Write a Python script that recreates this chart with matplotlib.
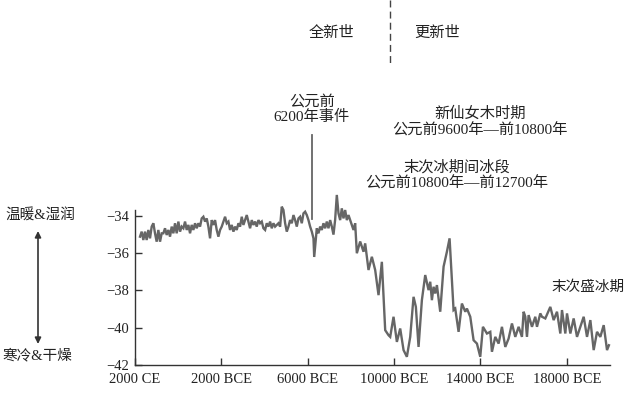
import matplotlib
matplotlib.use("Agg")
import matplotlib.pyplot as plt
from matplotlib.lines import Line2D

plt.rcParams['font.family'] = ['Liberation Serif', 'Noto Sans CJK SC']

# years before 2000 CE, and the isotope-style proxy value
holo_years = [
    232, 309, 386, 464, 541, 618, 695, 773, 850, 927, 1004, 1082, 1159, 1236,
    1313, 1391, 1468, 1545, 1622, 1700, 1777, 1854, 1931, 2009, 2086, 2163,
    2240, 2318, 2395, 2472, 2549, 2627, 2704, 2781, 2858, 2936, 3013, 3090,
    3167, 3245, 3322, 3399, 3476, 3554, 3631, 3708, 3785, 3863, 3940, 4017,
    4094, 4172, 4249, 4326, 4403, 4481, 4558, 4635, 4712, 4790, 4867, 4944,
    5021, 5099, 5176, 5253, 5330, 5408, 5485, 5562, 5639, 5717, 5794, 5871,
    5948, 6026, 6103, 6180, 6257, 6335, 6412, 6489, 6566, 6644, 6721, 6798,
    6875, 6953, 7030, 7107, 7184, 7262, 7339, 7416, 7493, 7571, 7648, 7725,
    7802, 7880, 7957, 8034, 8111, 8189, 8266, 8300, 8420, 8498, 8575, 8652,
    8729, 8807, 8884, 8961, 9038, 9116, 9193, 9270, 9347, 9425, 9502, 9579,
    9656, 9734, 9811, 9888,
]
holo_vals = [
    -35.11, -34.84, -35.29, -34.84, -35.29, -34.75, -35.20, -34.57, -34.39, -34.93,
    -35.38, -34.75, -35.38, -34.93, -34.93, -34.66, -35.02, -34.75, -35.11, -34.57,
    -34.93, -34.39, -34.93, -34.30, -34.84, -34.57, -34.66, -34.30, -34.75, -34.48,
    -34.93, -34.48, -34.75, -34.39, -34.66, -34.39, -34.57, -34.13, -34.04, -34.30,
    -34.13, -34.57, -35.20, -34.22, -34.48, -34.22, -34.75, -35.11, -34.75, -34.57,
    -34.30, -34.04, -34.39, -34.30, -34.75, -34.48, -34.84, -34.57, -34.75, -34.39,
    -34.57, -34.04, -34.48, -34.22, -33.95, -34.30, -34.66, -34.22, -34.48, -34.30,
    -34.57, -34.22, -34.39, -34.30, -34.66, -34.75, -34.39, -34.57, -34.30, -34.66,
    -34.39, -34.57, -34.48, -34.39, -34.57, -33.50, -33.68, -34.39, -34.84, -34.57,
    -34.22, -34.39, -33.95, -34.22, -34.57, -34.13, -34.04, -34.39, -33.86, -33.77,
    -33.95, -34.22, -34.57, -34.84, -35.20, -36.20, -34.66, -34.93, -34.57, -34.75,
    -34.39, -34.66, -34.30, -34.66, -34.22, -34.57, -35.00, -34.20, -32.87, -33.86,
    -34.22, -33.59, -34.13, -33.68, -34.22, -33.95,
]
glacial_years = [
    9966, 10120, 10197, 10275, 10429, 10584, 10661, 10815, 10970, 11124,
    11279, 11433, 11588, 11742, 11820, 11974, 12129, 12283, 12438, 12592,
    12747, 12901, 13009, 13133, 13287, 13442, 13596, 13674, 13751, 13828,
    13905, 13983, 14137, 14292, 14446, 14570, 14678, 14755, 14832, 14987,
    15141, 15296, 15373, 15528, 15682, 15837, 15991, 16115, 16300, 16455,
    16532, 16686, 16841, 16995, 17150, 17304, 17459, 17613, 17768, 17922,
    18000, 18077, 18154, 18231, 18386, 18540, 18618, 18772, 18849, 19004,
    19236, 19390, 19545, 19699, 19776, 19931, 20008, 20163, 20317, 20472,
    20626, 20781, 20935, 21090, 21244, 21399, 21553, 21708, 21862, 21950,
]
glacial_vals = [
    -34.22, -34.75, -34.39, -36.00, -35.37, -35.92, -35.47, -36.90, -36.19, -36.90,
    -38.25, -36.46, -40.13, -40.40, -40.49, -39.41, -40.76, -40.04, -41.20, -41.56,
    -40.49, -38.34, -38.88, -41.03, -38.52, -37.17, -37.98, -37.53, -38.52, -37.80,
    -38.16, -37.71, -39.14, -36.72, -35.92, -35.20, -37.44, -39.05, -38.97, -40.22,
    -38.70, -39.14, -38.97, -39.41, -40.67, -40.85, -41.56, -39.95, -40.31, -40.22,
    -41.29, -40.49, -40.85, -39.95, -41.03, -40.58, -39.77, -40.49, -39.95, -40.49,
    -39.14, -39.41, -40.49, -39.32, -39.95, -39.41, -39.95, -39.23, -39.41, -39.50,
    -38.88, -39.59, -39.14, -40.31, -39.05, -40.31, -39.23, -40.31, -39.50, -40.49,
    -39.95, -39.41, -40.49, -39.59, -41.20, -40.22, -40.49, -39.86, -41.20, -40.94,
]

x_ticks = [0, 4000, 8000, 12000, 16000, 20000]
x_labels = ["2000 CE", "2000 BCE", "6000 BCE", "10000 BCE", "14000 BCE", "18000 BCE"]
y_ticks = [-34, -36, -38, -40, -42]

W, H = 628, 393
AX_COLOR = "#333333"
LINE_COLOR = "#666666"

fig = plt.figure(figsize=(W / 100, H / 100), dpi=100)
ax = fig.add_axes([135 / W, 28 / H, 475 / W, 154.6 / H])

years = holo_years + glacial_years
vals = holo_vals + glacial_vals
ax.plot(years, vals, color=LINE_COLOR, lw=1.7, clip_on=False, solid_joinstyle="miter")

ax.set_xlim(0, 22000)
ax.set_ylim(-42, -33.7)
ax.set_xticks(x_ticks)
ax.set_xticklabels(x_labels)
ax.set_yticks(y_ticks)
ax.tick_params(direction="in", length=5, width=1, color=AX_COLOR,
               labelsize=10.5, labelcolor="#222222")
ax.tick_params(axis="x", pad=6)
ax.tick_params(axis="y", pad=4)
for side in ["top", "right"]:
    ax.spines[side].set_visible(False)
for side in ["left", "bottom"]:
    ax.spines[side].set_color(AX_COLOR)
    ax.spines[side].set_linewidth(1)

# 8.2 ka event marker line
ax.plot([8220, 8220], [-29.65, -34.15], color=LINE_COLOR, lw=1.3, clip_on=False)


def ftext(x, y, s, **kw):
    fig.text(x / W, 1 - y / H, s, ha="center", va="center", **kw)


ftext(332, 32, "全新世", fontsize=11, family="Noto Sans CJK SC", color="#222222")
ftext(437, 32, "更新世", fontsize=11, family="Noto Sans CJK SC", color="#222222")
fig.add_artist(Line2D([390 / W, 390 / W], [1, 1 - 66 / H], transform=fig.transFigure,
                      color="#444444", lw=1, ls=(0, (5, 3))))

ann_kw = dict(fontsize=11, color="#222222", linespacing=1.15)
ftext(312, 109, "公元前\n6200年事件", **ann_kw)
ftext(480, 122, "新仙女木时期\n公元前9600年—前10800年", **ann_kw)
ftext(457, 175, "末次冰期间冰段\n公元前10800年—前12700年", **ann_kw)
ftext(588, 287, "末次盛冰期", fontsize=10.5, color="#222222")

ftext(40, 216, "温暖&湿润", fontsize=10.5, color="#222222")
ftext(37, 355, "寒冷&干燥", fontsize=10.5, color="#222222")
ax.annotate("", xy=(38, H - 231), xytext=(38, H - 344), xycoords="figure pixels",
            textcoords="figure pixels",
            arrowprops=dict(arrowstyle="<|-|>", color=AX_COLOR, lw=1.2,
                            mutation_scale=9, shrinkA=0, shrinkB=0))

fig.savefig("out.png", dpi=100)
